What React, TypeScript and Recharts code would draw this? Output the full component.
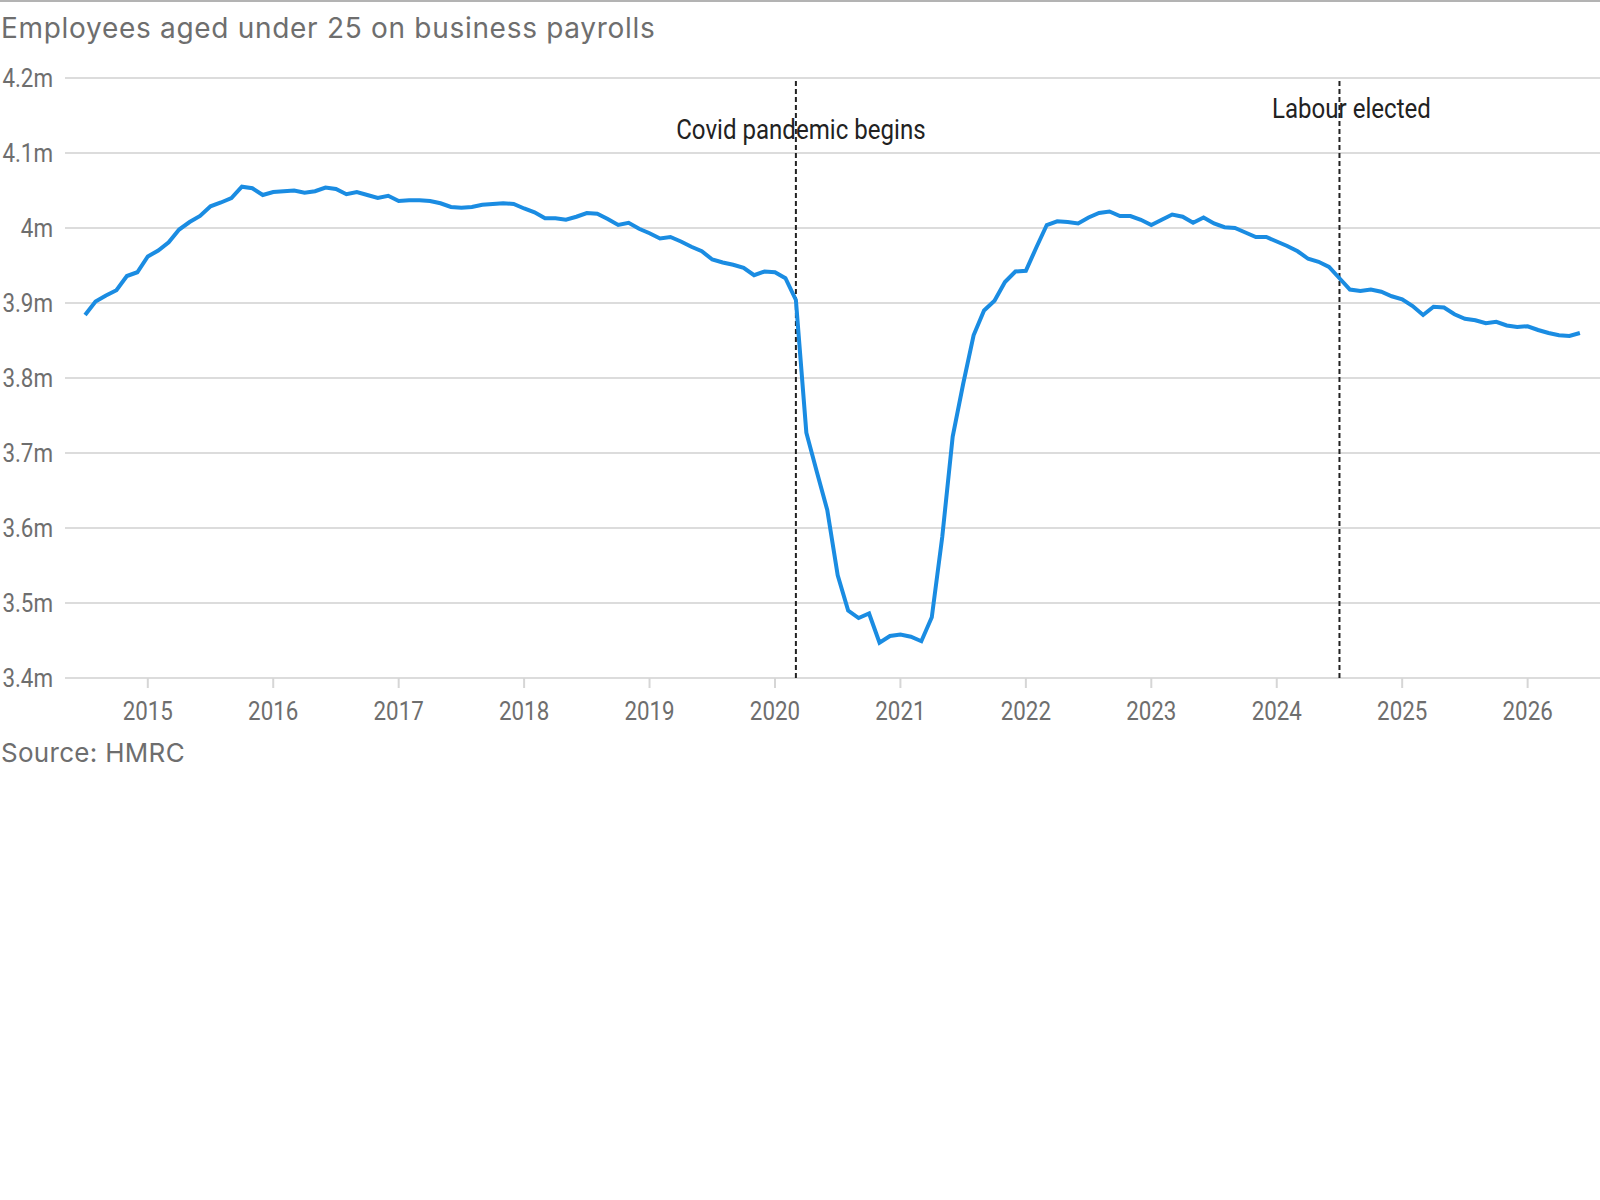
import React from 'react';
import { LineChart, Line, XAxis, YAxis, CartesianGrid, ReferenceLine } from 'recharts';

// monthly, Jul 2014 – Jun 2026 (one row per Jul–Jun year)
const months: string[] = [
  '2014-07', '2014-08', '2014-09', '2014-10', '2014-11', '2014-12', '2015-01', '2015-02', '2015-03', '2015-04', '2015-05', '2015-06',
  '2015-07', '2015-08', '2015-09', '2015-10', '2015-11', '2015-12', '2016-01', '2016-02', '2016-03', '2016-04', '2016-05', '2016-06',
  '2016-07', '2016-08', '2016-09', '2016-10', '2016-11', '2016-12', '2017-01', '2017-02', '2017-03', '2017-04', '2017-05', '2017-06',
  '2017-07', '2017-08', '2017-09', '2017-10', '2017-11', '2017-12', '2018-01', '2018-02', '2018-03', '2018-04', '2018-05', '2018-06',
  '2018-07', '2018-08', '2018-09', '2018-10', '2018-11', '2018-12', '2019-01', '2019-02', '2019-03', '2019-04', '2019-05', '2019-06',
  '2019-07', '2019-08', '2019-09', '2019-10', '2019-11', '2019-12', '2020-01', '2020-02', '2020-03', '2020-04', '2020-05', '2020-06',
  '2020-07', '2020-08', '2020-09', '2020-10', '2020-11', '2020-12', '2021-01', '2021-02', '2021-03', '2021-04', '2021-05', '2021-06',
  '2021-07', '2021-08', '2021-09', '2021-10', '2021-11', '2021-12', '2022-01', '2022-02', '2022-03', '2022-04', '2022-05', '2022-06',
  '2022-07', '2022-08', '2022-09', '2022-10', '2022-11', '2022-12', '2023-01', '2023-02', '2023-03', '2023-04', '2023-05', '2023-06',
  '2023-07', '2023-08', '2023-09', '2023-10', '2023-11', '2023-12', '2024-01', '2024-02', '2024-03', '2024-04', '2024-05', '2024-06',
  '2024-07', '2024-08', '2024-09', '2024-10', '2024-11', '2024-12', '2025-01', '2025-02', '2025-03', '2025-04', '2025-05', '2025-06',
  '2025-07', '2025-08', '2025-09', '2025-10', '2025-11', '2025-12', '2026-01', '2026-02', '2026-03', '2026-04', '2026-05', '2026-06',
];

// employees aged under 25, millions
const employees: number[] = [
  3.884, 3.902, 3.910, 3.917, 3.936, 3.941, 3.962, 3.970, 3.981, 3.998, 4.008, 4.016,
  4.029, 4.034, 4.040, 4.055, 4.053, 4.044, 4.048, 4.049, 4.050, 4.047, 4.049, 4.054,
  4.052, 4.045, 4.048, 4.044, 4.040, 4.043, 4.036, 4.037, 4.037, 4.036, 4.033, 4.028,
  4.027, 4.028, 4.031, 4.032, 4.033, 4.032, 4.026, 4.021, 4.013, 4.013, 4.011, 4.015,
  4.020, 4.019, 4.012, 4.004, 4.007, 3.999, 3.993, 3.986, 3.988, 3.982, 3.975, 3.969,
  3.958, 3.954, 3.951, 3.947, 3.937, 3.942, 3.941, 3.933, 3.904, 3.727, 3.675, 3.624,
  3.537, 3.490, 3.480, 3.486, 3.447, 3.456, 3.458, 3.455, 3.449, 3.481, 3.588, 3.722,
  3.792, 3.857, 3.890, 3.903, 3.928, 3.942, 3.943, 3.974, 4.004, 4.009, 4.008, 4.006,
  4.014, 4.020, 4.022, 4.016, 4.016, 4.011, 4.004, 4.011, 4.018, 4.015, 4.007, 4.014,
  4.006, 4.001, 4.000, 3.994, 3.988, 3.988, 3.982, 3.976, 3.969, 3.959, 3.955, 3.948,
  3.933, 3.918, 3.916, 3.918, 3.915, 3.909, 3.905, 3.896, 3.884, 3.895, 3.894, 3.885,
  3.879, 3.877, 3.873, 3.875, 3.870, 3.868, 3.869, 3.864, 3.860, 3.857, 3.856, 3.860,
];

const yearTicks: number[] = [2015, 2016, 2017, 2018, 2019, 2020, 2021, 2022, 2023, 2024, 2025, 2026];
const valueTicks: number[] = [3.4, 3.5, 3.6, 3.7, 3.8, 3.9, 4.0, 4.1, 4.2];

const eventMonths: string[] = ['2020-03', '2024-07'];
const eventLabels: string[] = ['Covid pandemic begins', 'Labour elected'];

const toYear = (m: string) => {
  const [y, mo] = m.split('-').map(Number);
  return y + (mo - 1) / 12;
};

const data = months.map((m, i) => ({ t: toYear(m), value: employees[i] }));

const GREY = '#6e6e6e';
const SANS = 'Roboto, "Noto Sans", sans-serif';
const TITLE_FONT = 'Inter, Roboto, sans-serif';

// no condensed face installed, so squeeze Roboto horizontally
const Narrow = ({ x, y, anchor = 'middle', size = 26, fill = GREY, squeeze = 0.86, children }: any) => (
  <text
    transform={`translate(${x} ${y}) scale(${squeeze} 1)`}
    x={0}
    y={0}
    textAnchor={anchor}
    fill={fill}
    fontSize={size}
    fontFamily={SANS}
  >
    {children}
  </text>
);

// label placement per event (x offset from the line, text baseline)
const labelPos = [
  { dx: 5, y: 138.5 },
  { dx: 12, y: 118.3 },
];

export default function App() {
  return (
    <div style={{ position: 'absolute', left: 0, top: 0, width: 1600, height: 1200, background: '#fff' }}>
      <svg width={1600} height={1200} style={{ position: 'absolute', left: 0, top: 0 }}>
        <rect x={0} y={0} width={1600} height={2} fill="#b3b3b3" />
        <text x={1} y={38} fontFamily={TITLE_FONT} fontSize={28} letterSpacing={0.7} fill={GREY}>
          Employees aged under 25 on business payrolls
        </text>
        <text x={1} y={761.7} fontFamily={TITLE_FONT} fontSize={26} letterSpacing={0.3} fill={GREY}>
          Source: HMRC
        </text>
      </svg>
      <div style={{ position: 'absolute', left: 0, top: 0 }}>
        <LineChart width={1600} height={760} data={data} margin={{ top: 78, right: 0, bottom: 0, left: 0 }}>
          <CartesianGrid vertical={false} stroke="#dcdcdc" strokeWidth={2} />
          <XAxis
            dataKey="t"
            type="number"
            domain={[2014.34, 2026.577]}
            allowDataOverflow
            ticks={yearTicks}
            interval={0}
            height={82}
            axisLine={false}
            tickLine={{ stroke: '#d6d6d6', strokeWidth: 2 }}
            tickSize={10}
            tickMargin={13}
            tick={(p: any) => (
              <Narrow x={p.x} y={p.y + 18.5}>
                {p.payload.value}
              </Narrow>
            )}
          />
          <YAxis
            type="number"
            domain={[3.4, 4.2]}
            ticks={valueTicks}
            interval={0}
            width={65}
            axisLine={false}
            tickLine={false}
            tickSize={0}
            tickMargin={12}
            tick={(p: any) => (
              <Narrow x={p.x} y={p.y + 9.2} anchor="end">
                {`${+Number(p.payload.value).toFixed(1)}m`}
              </Narrow>
            )}
          />
          {eventMonths.map((m, i) => (
            <ReferenceLine
              key={m}
              x={toYear(m)}
              stroke="#222"
              strokeWidth={2}
              strokeDasharray="5 3"
              label={(p: any) => (
                <Narrow x={p.viewBox.x + labelPos[i].dx} y={labelPos[i].y} size={28} fill="#222">
                  {eventLabels[i]}
                </Narrow>
              )}
            />
          ))}
          <Line
            type="linear"
            dataKey="value"
            stroke="#1a8ce2"
            strokeWidth={4}
            dot={false}
            activeDot={false}
            isAnimationActive={false}
          />
        </LineChart>
      </div>
    </div>
  );
}
